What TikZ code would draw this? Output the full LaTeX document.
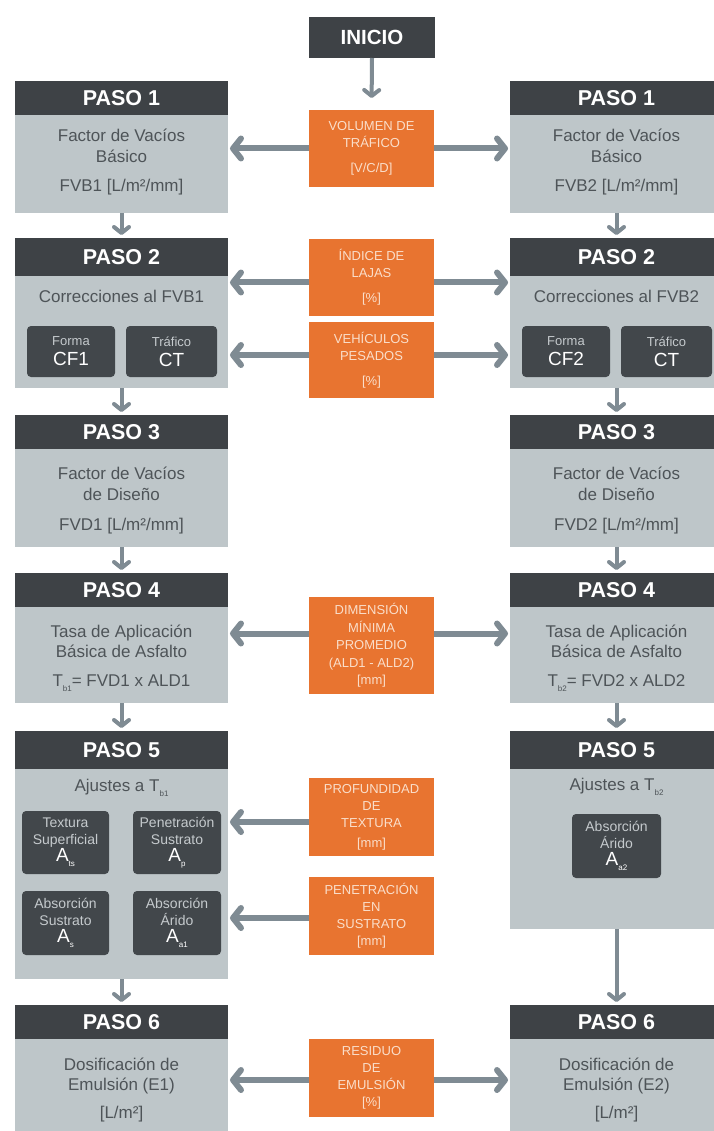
\documentclass[tikz,border=0pt]{standalone}
\usepackage{fontspec}
\setmainfont{Liberation Sans}
\usetikzlibrary{arrows.meta}
\definecolor{dk}{HTML}{3E4246}
\definecolor{lt}{HTML}{BEC6C9}
\definecolor{org}{HTML}{E87430}
\definecolor{arr}{HTML}{7F8B93}
\definecolor{btx}{HTML}{4E5458}
\definecolor{pch}{HTML}{FADECA}
\definecolor{sbx}{HTML}{42474B}
\definecolor{lbl}{HTML}{C5CACD}
\newcommand\myfs[2]{\fontsize{#1}{#2}\selectfont}
\newcommand\lowsub[1]{\raisebox{-5pt}{\myfs{8}{8}\selectfont #1}}
\begin{document}
\begin{tikzpicture}[x=1pt,y=-1pt,
  hdr/.style={fill=dk,text=white,font=\bfseries\myfs{21.5}{24},minimum width=213pt,inner sep=0pt,outer sep=0pt,anchor=north west},
  body/.style={fill=lt,minimum width=213pt,inner sep=0pt,outer sep=0pt,anchor=north west},
  btxt/.style={text=btx,font=\myfs{17}{21},align=center,inner sep=0pt,anchor=base},
  obox/.style={fill=org,text=pch,font=\myfs{13}{17},align=center,minimum width=125pt,inner sep=0pt,outer sep=0pt,anchor=north west},
  sbox/.style={fill=sbx,rounded corners=4pt,align=center,inner sep=0pt,outer sep=0pt,anchor=north west,text=white},
  harrow/.style={draw=arr,line width=6pt,-{Straight Barb[length=8pt,width=20pt,round]},shorten >=2pt},
  varrow/.style={draw=arr,line width=4pt,-{Straight Barb[length=6pt,width=15pt,round]},shorten >=3pt}
]
\useasboundingbox[fill=white] (0,0) rectangle (713,1131);

% INICIO
\node[hdr,font=\bfseries\myfs{20.5}{24},minimum width=126pt,minimum height=41pt] (ini) at (309,17) {INICIO};

% ---------- left column ----------
\node[hdr,minimum height=34pt] (h1l) at (15,81) {PASO 1};
\node[body,minimum height=98pt] (b1l) at (15,115) {};
\node[btxt] (t1l) at (121.5,192) {Factor de Vacíos\\Básico\\[8pt]FVB1 [L/m²/mm]};

\node[hdr,minimum height=38pt] (h2l) at (15,238) {PASO 2};
\node[body,minimum height=112pt] (b2l) at (15,276) {};
\node[btxt] (t2l) at (121.5,302) {Correcciones al FVB1};
\node[sbox,minimum width=88pt,minimum height=51pt,font=\myfs{13}{20}] (cf1) at (27,326) {{\color{lbl}Forma}\\{\myfs{19}{20}CF1}};
\node[sbox,minimum width=91pt,minimum height=51pt,font=\myfs{13}{20}] (ct1) at (126,326) {{\color{lbl}Tráfico}\\{\myfs{19}{20}CT}};

\node[hdr,minimum height=34pt] (h3l) at (15,415) {PASO 3};
\node[body,minimum height=98pt] (b3l) at (15,449) {};
\node[btxt] (t3l) at (121.5,530) {Factor de Vacíos\\de Diseño\\[9pt]FVD1 [L/m²/mm]};

\node[hdr,minimum height=34pt] (h4l) at (15,573) {PASO 4};
\node[body,minimum height=96pt] (b4l) at (15,607) {};
\node[btxt,font=\myfs{17}{20}] (t4l) at (121.5,686) {Tasa de Aplicación\\Básica de Asfalto\\[9pt]T\lowsub{b1}= FVD1 x ALD1};

\node[hdr,minimum height=38pt] (h5l) at (15,731) {PASO 5};
\node[body,minimum height=210pt] (b5l) at (15,769) {};
\node[btxt] (t5l) at (121.5,791) {Ajustes a T\lowsub{b1}};
\node[sbox,minimum width=87pt,minimum height=63pt,font=\myfs{14}{17}] (ats) at (22,811) {{\color{lbl}Textura}\\{\color{lbl}Superficial}\\{\myfs{19}{17}A\lowsub{ts}}};
\node[sbox,minimum width=88pt,minimum height=63pt,font=\myfs{14}{17}] (ap) at (133,811) {{\color{lbl}Penetración}\\{\color{lbl}Sustrato}\\{\myfs{19}{17}A\lowsub{p}}};
\node[sbox,minimum width=87pt,minimum height=64pt,font=\myfs{14}{17}] (as) at (22,891) {{\color{lbl}Absorción}\\{\color{lbl}Sustrato}\\{\myfs{19}{17}A\lowsub{s}}};
\node[sbox,minimum width=88pt,minimum height=64pt,font=\myfs{14}{17}] (aa1) at (133,891) {{\color{lbl}Absorción}\\{\color{lbl}Árido}\\{\myfs{19}{17}A\lowsub{a1}}};

\node[hdr,minimum height=34pt] (h6l) at (15,1005) {PASO 6};
\node[body,minimum height=100pt] (b6l) at (15,1039) {};
\node[btxt,font=\myfs{17}{20}] (t6l) at (121.5,1118) {Dosificación de\\Emulsión (E1)\\[8pt]{[L/m²]}};

% ---------- right column ----------
\node[hdr,minimum height=34pt] (h1r) at (510,81) {PASO 1};
\node[body,minimum height=98pt] (b1r) at (510,115) {};
\node[btxt] (t1r) at (616.5,192) {Factor de Vacíos\\Básico\\[8pt]FVB2 [L/m²/mm]};

\node[hdr,minimum height=38pt] (h2r) at (510,238) {PASO 2};
\node[body,minimum height=112pt] (b2r) at (510,276) {};
\node[btxt] (t2r) at (616.5,302) {Correcciones al FVB2};
\node[sbox,minimum width=88pt,minimum height=51pt,font=\myfs{13}{20}] (cf2) at (522,326) {{\color{lbl}Forma}\\{\myfs{19}{20}CF2}};
\node[sbox,minimum width=91pt,minimum height=51pt,font=\myfs{13}{20}] (ct2) at (621,326) {{\color{lbl}Tráfico}\\{\myfs{19}{20}CT}};

\node[hdr,minimum height=34pt] (h3r) at (510,415) {PASO 3};
\node[body,minimum height=98pt] (b3r) at (510,449) {};
\node[btxt] (t3r) at (616.5,530) {Factor de Vacíos\\de Diseño\\[9pt]FVD2 [L/m²/mm]};

\node[hdr,minimum height=34pt] (h4r) at (510,573) {PASO 4};
\node[body,minimum height=96pt] (b4r) at (510,607) {};
\node[btxt,font=\myfs{17}{20}] (t4r) at (616.5,686) {Tasa de Aplicación\\Básica de Asfalto\\[9pt]T\lowsub{b2}= FVD2 x ALD2};

\node[hdr,minimum height=38pt] (h5r) at (510,731) {PASO 5};
\node[body,minimum height=160pt] (b5r) at (510,769) {};
\node[btxt] (t5r) at (616.5,790) {Ajustes a T\lowsub{b2}};
\node[sbox,minimum width=89pt,minimum height=64pt,font=\myfs{14}{17}] (aa2) at (572,814) {{\color{lbl}Absorción}\\{\color{lbl}Árido}\\{\myfs{19}{17}A\lowsub{a2}}};

\node[hdr,minimum height=34pt] (h6r) at (510,1005) {PASO 6};
\node[body,minimum height=100pt] (b6r) at (510,1039) {};
\node[btxt,font=\myfs{17}{20}] (t6r) at (616.5,1118) {Dosificación de\\Emulsión (E2)\\[8pt]{[L/m²]}};

% ---------- orange inputs ----------
\node[obox,minimum height=77pt] (vol) at (309,110) {VOLUMEN DE\\TRÁFICO\\[8pt]{[V/C/D]}};
\node[obox,minimum height=77pt] (ind) at (309,239) {ÍNDICE DE\\LAJAS\\[8pt]{[\%]}};
\node[obox,minimum height=76pt] (veh) at (309,322) {VEHÍCULOS\\PESADOS\\[8pt]{[\%]}};
\node[obox,minimum height=97pt,font=\myfs{13}{17.5}] (dim) at (309,597) {DIMENSIÓN\\MÍNIMA\\PROMEDIO\\(ALD1 - ALD2)\\{[mm]}};
\node[obox,minimum height=78pt] (prof) at (309,778) {PROFUNDIDAD\\DE\\TEXTURA\\[3pt]{[mm]}};
\node[obox,minimum height=78pt] (pen) at (309,877) {PENETRACIÓN\\EN\\SUSTRATO\\{[mm]}};
\node[obox,minimum height=78pt] (res) at (309,1039) {RESIDUO\\DE\\EMULSIÓN\\{[\%]}};

% ---------- vertical arrows ----------
\draw[varrow,shorten >=12pt] (ini.south) -- (vol.north);
\draw[varrow] (b1l.south) -- (h2l.north);
\draw[varrow] (b2l.south) -- (h3l.north);
\draw[varrow] (b3l.south) -- (h4l.north);
\draw[varrow] (b4l.south) -- (h5l.north);
\draw[varrow] (b5l.south) -- (h6l.north);
\draw[varrow] (b1r.south) -- (h2r.north);
\draw[varrow] (b2r.south) -- (h3r.north);
\draw[varrow] (b3r.south) -- (h4r.north);
\draw[varrow] (b4r.south) -- (h5r.north);
\draw[varrow] (b5r.south) -- (h6r.north);

% ---------- horizontal arrows ----------
\draw[harrow] (vol.west) -- (vol.west -| b1l.east);
\draw[harrow] (vol.east) -- (vol.east -| b1r.west);
\draw[harrow] ([yshift=-5pt]ind.west) -- ([yshift=-5pt]ind.west -| b2l.east);
\draw[harrow] ([yshift=-5pt]ind.east) -- ([yshift=-5pt]ind.east -| b2r.west);
\draw[harrow] ([yshift=5pt]veh.west) -- ([yshift=5pt]veh.west -| b2l.east);
\draw[harrow] ([yshift=5pt]veh.east) -- ([yshift=5pt]veh.east -| b2r.west);
\draw[harrow] ([yshift=12pt]dim.west) -- ([yshift=12pt]dim.west -| b4l.east);
\draw[harrow] ([yshift=12pt]dim.east) -- ([yshift=12pt]dim.east -| b4r.west);
\draw[harrow] ([yshift=-5pt]prof.west) -- ([yshift=-5pt]prof.west -| b5l.east);
\draw[harrow] ([yshift=-2pt]pen.west) -- ([yshift=-2pt]pen.west -| b5l.east);
\draw[harrow] ([yshift=-2pt]res.west) -- ([yshift=-2pt]res.west -| b6l.east);
\draw[harrow] ([yshift=-2pt]res.east) -- ([yshift=-2pt]res.east -| b6r.west);
\end{tikzpicture}
\end{document}
